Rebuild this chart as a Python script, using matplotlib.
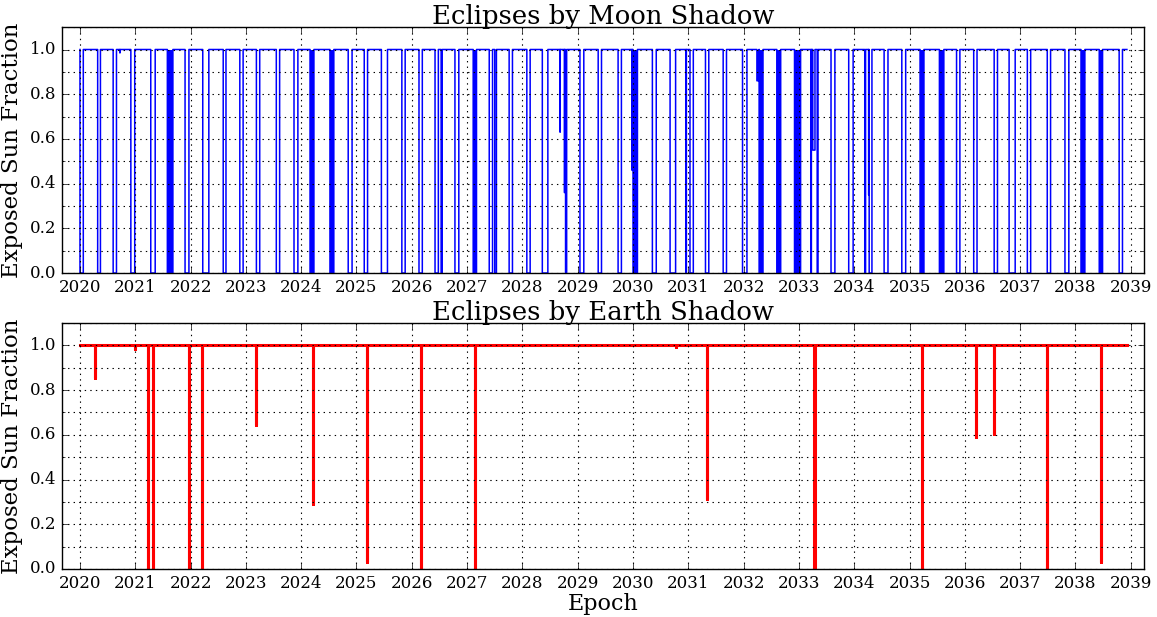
import matplotlib
matplotlib.use("Agg")
import matplotlib.pyplot as plt
from matplotlib.ticker import MultipleLocator, FormatStrFormatter

plt.style.use("classic")
plt.rcParams["font.family"] = ["DejaVu Serif"]

# Time span of the propagation (decimal years)
t_begin = 2020.0
t_end = 2038.93

# Moon-shadow eclipse seasons: start, end (decimal years), minimum exposed fraction
moon_start = [2020.00, 2020.32, 2020.60, 2020.72, 2020.92, 2021.28, 2021.58, 2021.90,
              2022.22, 2022.59, 2022.89, 2023.19, 2023.55, 2023.87, 2024.16, 2024.52,
              2024.85, 2025.14, 2025.45, 2025.82, 2026.13, 2026.42, 2026.53, 2026.78,
              2027.11, 2027.40, 2027.50, 2027.76, 2028.08, 2028.36, 2028.680, 2028.760,
              2028.78, 2029.04, 2029.37, 2029.73, 2029.980, 2030.00, 2030.35, 2030.67,
              2030.960, 2031.03, 2031.31, 2031.63, 2031.98, 2032.24, 2032.28, 2032.60,
              2032.92, 2033.220, 2033.25, 2033.330, 2033.58, 2033.90, 2034.190, 2034.260,
              2034.27, 2034.54, 2034.86, 2035.19, 2035.54, 2035.85, 2036.16, 2036.53,
              2036.80, 2037.13, 2037.49, 2037.81, 2038.10, 2038.43, 2038.79]
moon_end = [2020.06, 2020.37, 2020.66, 2020.725, 2020.99, 2021.36, 2021.68, 2021.97,
            2022.33, 2022.64, 2022.95, 2023.25, 2023.61, 2023.94, 2024.23, 2024.59,
            2024.92, 2025.20, 2025.56, 2025.88, 2026.19, 2026.48, 2026.55, 2026.85,
            2027.17, 2027.46, 2027.53, 2027.82, 2028.14, 2028.46, 2028.684, 2028.764,
            2028.80, 2029.11, 2029.43, 2029.79, 2029.985, 2030.08, 2030.42, 2030.77,
            2030.965, 2031.09, 2031.37, 2031.69, 2032.06, 2032.28, 2032.35, 2032.67,
            2033.03, 2033.225, 2033.29, 2033.345, 2033.65, 2033.98, 2034.205, 2034.265,
            2034.32, 2034.61, 2034.93, 2035.26, 2035.62, 2035.91, 2036.22, 2036.59,
            2036.91, 2037.19, 2037.55, 2037.88, 2038.17, 2038.49, 2038.85]
moon_min = [0.0, 0.0, 0.0, 0.985, 0.0, 0.0, 0.0, 0.0,
            0.0, 0.0, 0.0, 0.0, 0.0, 0.0, 0.0, 0.0,
            0.0, 0.0, 0.0, 0.0, 0.0, 0.0, 0.0, 0.0,
            0.0, 0.0, 0.0, 0.0, 0.0, 0.0, 0.63, 0.36,
            0.0, 0.0, 0.0, 0.0, 0.46, 0.0, 0.0, 0.0,
            0.0, 0.0, 0.0, 0.0, 0.0, 0.86, 0.0, 0.0,
            0.0, 0.0, 0.55, 0.0, 0.0, 0.0, 0.0, 0.35,
            0.0, 0.0, 0.0, 0.0, 0.0, 0.0, 0.0, 0.0,
            0.0, 0.0, 0.0, 0.0, 0.0, 0.0, 0.0]
# seasons with back-to-back orbital eclipses (drawn solid)
moon_dense = {6, 14, 15, 24, 37, 45, 46, 47, 48, 59, 60, 68, 69}

# Earth-shadow eclipses: epoch (decimal years) and minimum exposed fraction
earth_epoch = [2020.27, 2020.995, 2021.235, 2021.32, 2021.97, 2022.21, 2023.18, 2024.22,
               2025.195, 2026.17, 2027.14, 2030.78, 2031.34, 2033.28, 2035.23, 2036.20,
               2036.52, 2037.49, 2038.46]
earth_min = [0.854, 0.985, 0.0, 0.0, 0.0, 0.0, 0.642, 0.289,
             0.031, 0.0, 0.0, 0.992, 0.315, 0.0, 0.0, 0.589,
             0.602, 0.0, 0.031]
earth_duration = 0.002  # years

years = list(range(2020, 2040))


def fraction_profile(starts, ends, mins):
    """Build the exposed-fraction history as a polyline."""
    t = [t_begin]
    f = [1.0]
    for s, e, m in zip(starts, ends, mins):
        t += [s, s, e, e]
        f += [1.0, m, m, 1.0]
    t.append(t_end)
    f.append(1.0)
    return t, f


fig = plt.figure(figsize=(11.57, 6.17), dpi=100, facecolor="white")
ax1 = fig.add_axes([0.0533, 0.5575, 0.9355, 0.3985])
ax2 = fig.add_axes([0.0533, 0.0778, 0.9355, 0.3987])

t_m, f_m = fraction_profile(moon_start, moon_end, moon_min)
ax1.plot(t_m, f_m, color="b", lw=1.1, snap=False)
for i in sorted(moon_dense):
    ax1.fill_between([moon_start[i], moon_end[i]], [moon_min[i]] * 2, [1.0, 1.0],
                     color="b", lw=0)

earth_end = [e + earth_duration for e in earth_epoch]
t_e, f_e = fraction_profile(earth_epoch, earth_end, earth_min)
ax2.plot(t_e, f_e, color="r", lw=2.2)

for ax, title in ((ax1, "Eclipses by Moon Shadow"), (ax2, "Eclipses by Earth Shadow")):
    ax.set_xlim(2019.669, 2039.24)
    ax.set_ylim(0.0, 1.1)
    ax.set_xticks(years)
    ax.xaxis.set_major_formatter(FormatStrFormatter("%d"))
    ax.yaxis.set_major_locator(MultipleLocator(0.2))
    ax.yaxis.set_minor_locator(MultipleLocator(0.1))
    ax.yaxis.set_major_formatter(FormatStrFormatter("%.1f"))
    ax.grid(True, which="both", color="k", linestyle=":", linewidth=0.8)
    ax.set_axisbelow(False)
    ax.tick_params(labelsize=12)
    ax.set_ylabel("Exposed Sun Fraction", fontsize=16.5)
    ax.set_title(title, fontsize=18.6, pad=2)

ax2.set_xlabel("Epoch", fontsize=16, labelpad=1)

fig.savefig("out.png", dpi=100, facecolor="white")
